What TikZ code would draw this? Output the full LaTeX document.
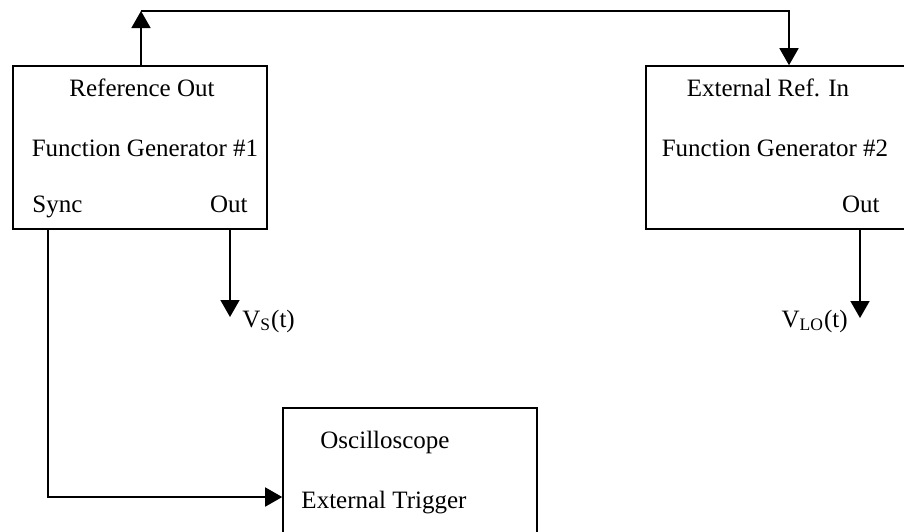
\documentclass[tikz,border=0pt]{standalone}
\usepackage{fontspec}
\setmainfont{Liberation Serif}
\usetikzlibrary{arrows.meta}
\tikzset{
  box/.style={draw,line width=0.8pt,inner sep=0pt},
  lbl/.style={font=\fontsize{12.5}{15}\selectfont,inner sep=0pt},
  sig/.style={line width=0.8pt,-{Triangle[length=8.5pt,width=9.5pt]}}
}
\begin{document}
\begin{tikzpicture}[x=0.5pt,y=-0.5pt]
 \clip (0,0) rectangle (904,531);
 % boxes
 \node[box,minimum width=127pt,minimum height=81.5pt] (gen1) at (140,147.5) {};
 \node[box,minimum width=132pt,minimum height=81.5pt] (gen2) at (778,147.5) {};
 \node[box,minimum width=127pt,minimum height=66pt] (scope) at (410,474) {};
 % texts
 \node[lbl,anchor=base] (refout) at (142,96) {Reference Out};
 \node[lbl,anchor=base] (name1) at (145,156) {Function Generator \#1};
 \node[lbl,anchor=base west] (sync1) at (32,212) {Sync};
 \node[lbl,anchor=base east] (out1) at (248,212) {Out};
 \node[lbl,anchor=base] (extref) at (768,96) {External Ref. In};
 \node[lbl,anchor=base] (name2) at (775,156) {Function Generator \#2};
 \node[lbl,anchor=base east] (out2) at (880,212) {Out};
 \node[lbl,anchor=base] (osc) at (385,448) {Oscilloscope};
 \node[lbl,anchor=base] (trig) at (384,508) {External Trigger};
 \node[lbl,anchor=base west] (vslbl) at (242,327) {V\textsubscript{S}(t)};
 \node[lbl,anchor=base east] (vlolbl) at (848,327) {V\textsubscript{LO}(t)};
 % connector points
 \coordinate (top) at (141,11);
 \coordinate (refin) at (789,11);
 \coordinate (syncpt) at (48,497);
 \coordinate (vs) at (230,317);
 \coordinate (vlo) at (860,318);
 % connectors
 \draw[sig] (gen1.north -| top) -- (top);
 \draw[sig] (top) -- (refin) -- (gen2.north -| refin);
 \draw[sig] (gen1.south -| syncpt) -- (syncpt) -- (scope.west |- syncpt);
 \draw[sig] (gen1.south -| vs) -- (vs);
 \draw[sig] (gen2.south -| vlo) -- (vlo);
\end{tikzpicture}
\end{document}
